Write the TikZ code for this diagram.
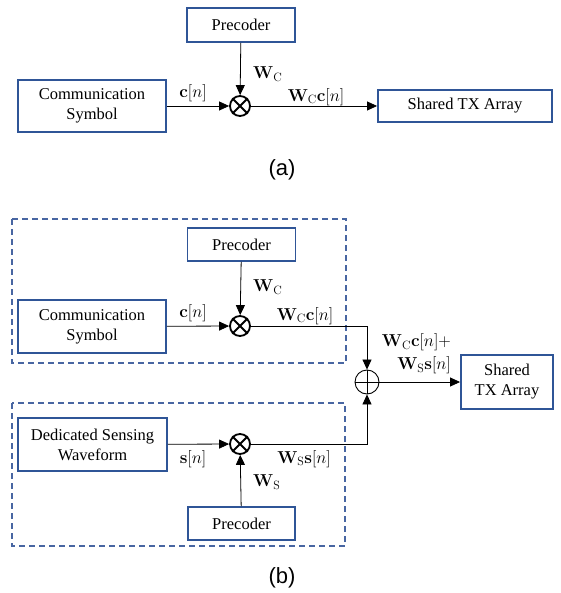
\documentclass[tikz,border=0pt]{standalone}
\usepackage{amsmath,amssymb}
\usepackage{xcolor}
\usepackage[no-math]{fontspec}
\setmainfont{Liberation Serif}
\newfontfamily\capfont{Liberation Sans}
\usepackage{tikz}
\usetikzlibrary{arrows.meta,positioning,calc}

\definecolor{boxblue}{RGB}{47,85,151}
\definecolor{dashblue}{RGB}{72,102,162}

\tikzset{
  blk/.style={draw=boxblue, line width=1.9pt, inner sep=0pt, align=center, font=\fontsize{16.5}{20}\selectfont},
  mult/.style={draw, circle, line width=1.8pt, minimum size=20pt, inner sep=0pt},
  summ/.style={draw, circle, line width=0.9pt, minimum size=24pt, inner sep=0pt},
  sig/.style={-{Triangle[length=10pt,width=9pt]}, line width=0.8pt},
  grp/.style={draw=dashblue, dash pattern=on 6pt off 4pt, line width=1.2pt},
  lbl/.style={font=\fontsize{16.5}{20}\selectfont, inner sep=0pt},
  subcap/.style={font=\capfont\fontsize{22}{24}\selectfont}
}

\begin{document}
\begin{tikzpicture}[x=1pt,y=-1pt]
\useasboundingbox (0,0) rectangle (560,593);

% (a) communication only
\node[blk, minimum width=108pt, minimum height=34pt] (precA) at (241,25) {Precoder};
\node[blk, minimum width=148pt, minimum height=52pt] (commA) at (92,106) {Communication\\Symbol};
\node[mult] (mulA) at (240,106) {};
\draw[line width=1.8pt] (mulA.north west) -- (mulA.south east) (mulA.north east) -- (mulA.south west);
\node[blk, minimum width=174pt, minimum height=32pt] (txA) at (465,106) {Shared TX Array};
\draw[sig] (precA) -- (mulA);
\draw[sig] (commA) -- (mulA);
\draw[sig] (mulA) -- (txA);
\node[lbl, anchor=west] (wcA) at (253,74) {$\mathbf{W}_{\mathrm{C}}$};
\node[lbl] (cA) at (193,93) {$\mathbf{c}[n]$};
\node[lbl] (wccA) at (316,97) {$\mathbf{W}_{\mathrm{C}}\mathbf{c}[n]$};
\node[subcap] (capA) at (282,170) {(a)};

% (b) communication + dedicated sensing
\draw[grp] (12,219) rectangle (346,363);
\draw[grp] (12,403) rectangle (345,546);

\node[blk, minimum width=108pt, minimum height=33pt] (precB) at (241.5,244.5) {Precoder};
\node[blk, minimum width=148pt, minimum height=53pt] (commB) at (92,326.5) {Communication\\Symbol};
\node[mult] (mulB) at (240,326) {};
\draw[line width=1.8pt] (mulB.north west) -- (mulB.south east) (mulB.north east) -- (mulB.south west);
\draw[sig] (precB) -- (mulB);
\draw[sig] (commB) -- (mulB);
\node[lbl, anchor=west] (wcB) at (253,287) {$\mathbf{W}_{\mathrm{C}}$};
\node[lbl] (cB) at (193,313) {$\mathbf{c}[n]$};
\node[lbl] (wccB) at (305,316) {$\mathbf{W}_{\mathrm{C}}\mathbf{c}[n]$};

\node[summ] (sumB) at (367,382) {};
\draw[line width=0.9pt] (sumB.north) -- (sumB.south) (sumB.west) -- (sumB.east);
\node[blk, minimum width=92pt, minimum height=54pt] (txB) at (507,382) {Shared\\TX Array};
\draw[sig] (mulB) -| (sumB);
\draw[sig] (sumB) -- (txB);
\node[lbl, anchor=east, align=right, font=\fontsize{16.5}{23}\selectfont] (sumlbl) at (451,354)
  {$\mathbf{W}_{\mathrm{C}}\mathbf{c}[n]+$\\$\mathbf{W}_{\mathrm{S}}\mathbf{s}[n]$};

\node[blk, minimum width=149pt, minimum height=53pt] (sensB) at (92.5,444.5) {Dedicated Sensing\\Waveform};
\node[mult] (mulC) at (240,444) {};
\draw[line width=1.8pt] (mulC.north west) -- (mulC.south east) (mulC.north east) -- (mulC.south west);
\node[blk, minimum width=107pt, minimum height=33pt] (precC) at (241.5,523.5) {Precoder};
\draw[sig] (sensB) -- (mulC);
\draw[sig] (precC) -- (mulC);
\draw[sig] (mulC) -| (sumB);
\node[lbl] (sB) at (193,459) {$\mathbf{s}[n]$};
\node[lbl] (wssB) at (304,459) {$\mathbf{W}_{\mathrm{S}}\mathbf{s}[n]$};
\node[lbl, anchor=west] (wsB) at (253,482) {$\mathbf{W}_{\mathrm{S}}$};
\node[subcap] (capB) at (282,578) {(b)};
\end{tikzpicture}
\end{document}
